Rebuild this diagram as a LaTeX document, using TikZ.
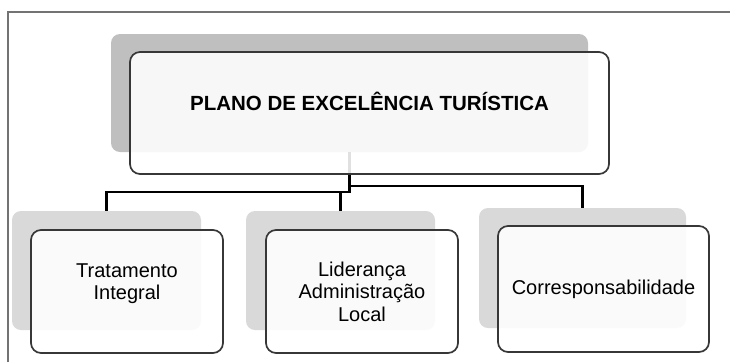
\documentclass[tikz,border=0pt]{standalone}
\usepackage{fontspec}
\setmainfont{Liberation Sans}
\usetikzlibrary{positioning}

\definecolor{sombraescura}{RGB}{191,191,191}
\definecolor{sombraclara}{RGB}{217,217,217}
\definecolor{bordacaixa}{RGB}{55,55,55}
\definecolor{moldura}{RGB}{115,115,115}

\begin{document}
\begin{tikzpicture}[
            x=1pt, y=-1pt,
            sombra/.style={rectangle, fill=sombraclara, rounded corners=9pt, minimum width=189pt, minimum height=119pt, inner sep=0pt},
            caixa/.style={rectangle, draw=bordacaixa, line width=1.7pt, fill=white, fill opacity=0.88, text opacity=1, rounded corners=10pt, minimum width=192pt, minimum height=123pt, align=center, inner sep=0pt, font=\fontsize{20}{22.5}\selectfont},
            liga/.style={draw=black, line width=2.2pt}
        ]
            \useasboundingbox (0,0) rectangle (730,362);
            \draw[moldura, line width=1.3pt] (8,362) |- (730,12);

            % sombras
            \node[sombra, fill=sombraescura, minimum width=477pt, minimum height=118pt] (planosh) at (349.5,93) {};
            \node[sombra] (tratsh) at (106.5,270.5) {};
            \node[sombra] (lidersh) at (340.5,270.5) {};
            \node[sombra, minimum width=207pt, minimum height=120pt] (corrsh) at (582.5,268) {};

            % ligacoes
            \draw[liga] (planosh.south) -- ++(0,40) -| (tratsh.north);
            \draw[liga] (planosh.south) ++(0,40) -| (lidersh.north);
            \draw[liga] (planosh.south) ++(0,34) -| (corrsh.north);

            % caixas
            \node[caixa, minimum width=479pt, minimum height=122pt, text depth=24pt, font=\bfseries\fontsize{20.5}{24}\selectfont] (plano) at ([shift={(20,20)}]planosh.center) {PLANO DE EXCEL\^ENCIA TUR\'ISTICA};
            \node[caixa, text depth=20pt] (trat) at ([shift={(20.5,21)}]tratsh.center) {Tratamento\\Integral};
            \node[caixa] (lider) at ([shift={(21.5,21)}]lidersh.center) {Lideran\c{c}a\\Administra\c{c}\~ao\\Local};
            \node[caixa, minimum width=211pt, minimum height=126pt] (corr) at ([shift={(21,21)}]corrsh.center) {Corresponsabilidade};
        \end{tikzpicture}
\end{document}
